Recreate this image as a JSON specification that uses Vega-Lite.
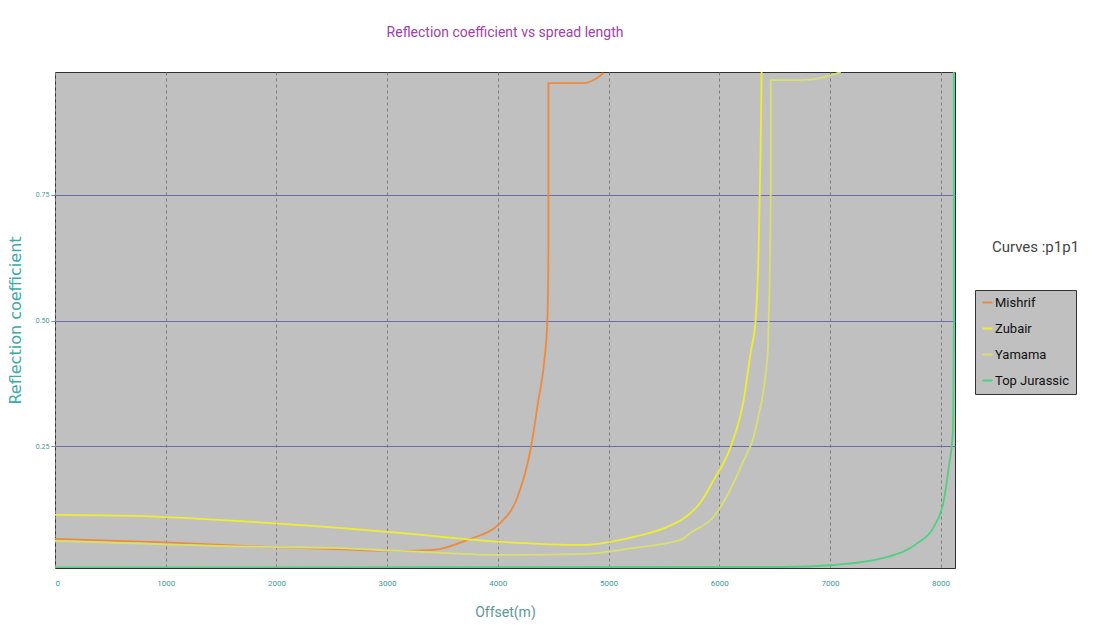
{
  "$schema": "https://vega.github.io/schema/vega-lite/v6.json",
  "width": 900,
  "height": 496,
  "autosize": {"type": "none"},
  "padding": {"left": 55, "top": 72, "right": 143, "bottom": 57},
  "background": "white",
  "title": {
    "text": "Reflection coefficient  vs  spread length",
    "anchor": "middle",
    "offset": 32,
    "font": "Liberation Sans Narrow, Roboto, sans-serif",
    "fontSize": 14,
    "fontWeight": "normal",
    "color": "#a040a8"
  },
  "config": {
    "view": {"fill": "#c0c0c0", "stroke": "#303030", "strokeWidth": 1}
  },
  "data": {
    "values": [
      {"c": "Mishrif", "i": 0, "x": 0, "y": 0.065},
      {"c": "Mishrif", "i": 1, "x": 1000, "y": 0.058},
      {"c": "Mishrif", "i": 2, "x": 1917, "y": 0.049},
      {"c": "Mishrif", "i": 3, "x": 2600, "y": 0.044},
      {"c": "Mishrif", "i": 4, "x": 3119, "y": 0.041},
      {"c": "Mishrif", "i": 5, "x": 3418, "y": 0.043},
      {"c": "Mishrif", "i": 6, "x": 3725, "y": 0.063},
      {"c": "Mishrif", "i": 7, "x": 4024, "y": 0.097},
      {"c": "Mishrif", "i": 8, "x": 4177, "y": 0.148},
      {"c": "Mishrif", "i": 9, "x": 4295, "y": 0.242},
      {"c": "Mishrif", "i": 10, "x": 4367, "y": 0.342},
      {"c": "Mishrif", "i": 11, "x": 4421, "y": 0.421},
      {"c": "Mishrif", "i": 12, "x": 4448, "y": 0.501},
      {"c": "Mishrif", "i": 13, "x": 4457, "y": 0.64},
      {"c": "Mishrif", "i": 14, "x": 4457, "y": 0.84},
      {"c": "Mishrif", "i": 15, "x": 4457, "y": 0.973},
      {"c": "Mishrif", "i": 16, "x": 4774, "y": 0.973},
      {"c": "Mishrif", "i": 17, "x": 4882, "y": 0.981},
      {"c": "Mishrif", "i": 18, "x": 4955, "y": 0.993},

      {"c": "Zubair", "i": 0, "x": 0, "y": 0.113},
      {"c": "Zubair", "i": 1, "x": 705, "y": 0.111},
      {"c": "Zubair", "i": 2, "x": 1917, "y": 0.097},
      {"c": "Zubair", "i": 3, "x": 3119, "y": 0.077},
      {"c": "Zubair", "i": 4, "x": 4024, "y": 0.059},
      {"c": "Zubair", "i": 5, "x": 4774, "y": 0.053},
      {"c": "Zubair", "i": 6, "x": 5226, "y": 0.069},
      {"c": "Zubair", "i": 7, "x": 5533, "y": 0.089},
      {"c": "Zubair", "i": 8, "x": 5700, "y": 0.109},
      {"c": "Zubair", "i": 9, "x": 5832, "y": 0.138},
      {"c": "Zubair", "i": 10, "x": 5949, "y": 0.182},
      {"c": "Zubair", "i": 11, "x": 6103, "y": 0.248},
      {"c": "Zubair", "i": 12, "x": 6221, "y": 0.342},
      {"c": "Zubair", "i": 13, "x": 6284, "y": 0.436},
      {"c": "Zubair", "i": 14, "x": 6329, "y": 0.501},
      {"c": "Zubair", "i": 15, "x": 6356, "y": 0.64},
      {"c": "Zubair", "i": 16, "x": 6374, "y": 0.84},
      {"c": "Zubair", "i": 17, "x": 6383, "y": 0.995},

      {"c": "Yamama", "i": 0, "x": 0, "y": 0.061},
      {"c": "Yamama", "i": 1, "x": 1917, "y": 0.049},
      {"c": "Yamama", "i": 2, "x": 2514, "y": 0.047},
      {"c": "Yamama", "i": 3, "x": 3119, "y": 0.041},
      {"c": "Yamama", "i": 4, "x": 4024, "y": 0.033},
      {"c": "Yamama", "i": 5, "x": 4774, "y": 0.035},
      {"c": "Yamama", "i": 6, "x": 5226, "y": 0.047},
      {"c": "Yamama", "i": 7, "x": 5651, "y": 0.063},
      {"c": "Yamama", "i": 8, "x": 5741, "y": 0.077},
      {"c": "Yamama", "i": 9, "x": 5949, "y": 0.109},
      {"c": "Yamama", "i": 10, "x": 6193, "y": 0.208},
      {"c": "Yamama", "i": 11, "x": 6347, "y": 0.302},
      {"c": "Yamama", "i": 12, "x": 6438, "y": 0.436},
      {"c": "Yamama", "i": 13, "x": 6447, "y": 0.501},
      {"c": "Yamama", "i": 14, "x": 6465, "y": 0.74},
      {"c": "Yamama", "i": 15, "x": 6465, "y": 0.979},
      {"c": "Yamama", "i": 16, "x": 6736, "y": 0.979},
      {"c": "Yamama", "i": 17, "x": 6917, "y": 0.983},
      {"c": "Yamama", "i": 18, "x": 7098, "y": 0.995},

      {"c": "Top Jurassic", "i": 0, "x": 0, "y": 0.008},
      {"c": "Top Jurassic", "i": 1, "x": 6582, "y": 0.009},
      {"c": "Top Jurassic", "i": 2, "x": 7034, "y": 0.013},
      {"c": "Top Jurassic", "i": 3, "x": 7486, "y": 0.027},
      {"c": "Top Jurassic", "i": 4, "x": 7794, "y": 0.057},
      {"c": "Top Jurassic", "i": 5, "x": 7939, "y": 0.089},
      {"c": "Top Jurassic", "i": 6, "x": 8029, "y": 0.142},
      {"c": "Top Jurassic", "i": 7, "x": 8074, "y": 0.208},
      {"c": "Top Jurassic", "i": 8, "x": 8110, "y": 0.276},
      {"c": "Top Jurassic", "i": 9, "x": 8119, "y": 0.477},
      {"c": "Top Jurassic", "i": 10, "x": 8119, "y": 0.81},
      {"c": "Top Jurassic", "i": 11, "x": 8119, "y": 0.995}
    ]
  },
  "resolve": {"axis": {"y": "independent"}},
  "layer": [
    {
      "mark": {"type": "line", "strokeWidth": 1.8, "clip": true, "interpolate": "monotone"},
      "encoding": {
        "x": {
          "field": "x",
          "type": "quantitative",
          "scale": {"domain": [0, 8130], "nice": false, "zero": false},
          "axis": {
            "values": [0, 1000, 2000, 3000, 4000, 5000, 6000, 7000, 8000],
            "format": "d",
            "title": "Offset(m)",
            "domain": false,
            "ticks": false,
            "labelPadding": 11,
            "labelFontSize": 8,
            "labelFont": "Liberation Sans Narrow, Roboto, sans-serif",
            "labelColor": "#3a9a9a",
            "titleFont": "Liberation Sans Narrow, Roboto, sans-serif",
            "titleFontSize": 14,
            "titleFontWeight": "normal",
            "titleColor": "#5a9898",
            "titlePadding": 18,
            "grid": true,
            "gridColor": "#7a7a7a",
            "gridDash": [3, 3],
            "gridWidth": 1
          }
        },
        "y": {
          "field": "y",
          "type": "quantitative",
          "scale": {"domain": [0.007, 0.995], "nice": false, "zero": false},
          "axis": {
            "values": [0.25, 0.5, 0.75],
            "format": ".2f",
            "title": "Reflection coefficient",
            "domain": false,
            "ticks": true,
            "tickSize": 4,
            "tickColor": "#8080a8",
            "labelPadding": 2,
            "labelFontSize": 7,
            "labelFont": "Liberation Sans Narrow, Roboto, sans-serif",
            "labelColor": "#3a9a9a",
            "titleFont": "DejaVu Sans",
            "titleFontSize": 16,
            "titleFontWeight": "normal",
            "titleColor": "#40a8a8",
            "titlePadding": 12,
            "grid": true,
            "gridColor": "#6a6aa8",
            "gridWidth": 1.2
          }
        },
        "color": {
          "field": "c",
          "type": "nominal",
          "scale": {
            "domain": ["Mishrif", "Zubair", "Yamama", "Top Jurassic"],
            "range": ["#ee8a3c", "#eeee30", "#d8e070", "#50d080"]
          },
          "legend": {
            "title": null,
            "orient": "none",
            "legendX": 920,
            "legendY": 218,
            "fillColor": "#c0c0c0",
            "strokeColor": "#333333",
            "padding": 6,
            "symbolType": "stroke",
            "symbolStrokeWidth": 2,
            "symbolSize": 100,
            "labelFont": "Liberation Sans Narrow, Roboto, sans-serif",
            "labelFontSize": 13,
            "labelColor": "#111111",
            "labelOffset": 1,
            "rowPadding": 12,
            "labelLimit": 200
          }
        },
        "order": {"field": "i", "type": "quantitative"}
      }
    },
    {
      "mark": {"type": "line", "opacity": 0},
      "encoding": {
        "x": {"field": "x", "type": "quantitative"},
        "y": {
          "field": "y",
          "type": "quantitative",
          "axis": {
            "orient": "right",
            "title": "Curves :p1p1",
            "labels": false,
            "ticks": false,
            "domain": false,
            "grid": false,
            "titleAngle": 0,
            "titleX": 80,
            "titleY": 174,
            "titleAlign": "center",
            "titleBaseline": "middle",
            "titleFont": "Liberation Sans Narrow, Roboto, sans-serif",
            "titleFontSize": 15,
            "titleFontWeight": "normal",
            "titleColor": "#444444"
          }
        },
        "detail": {"field": "c", "type": "nominal"},
        "order": {"field": "i", "type": "quantitative"}
      }
    }
  ]
}
